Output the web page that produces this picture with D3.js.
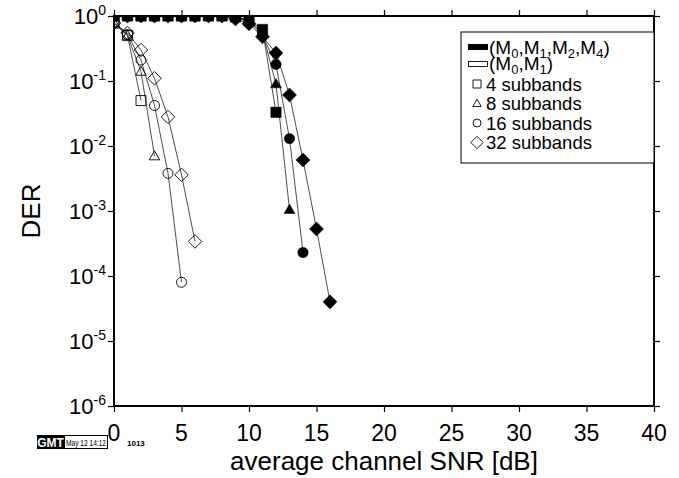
<!DOCTYPE html>
<html><head><meta charset="utf-8">
<script src="https://cdn.jsdelivr.net/npm/d3@7"></script>
<style>
body{margin:0;background:#fff}
svg{display:block}
text{font-family:"Liberation Sans",Arial,Helvetica,sans-serif;fill:#000}
</style>
</head><body>
<svg id="c" width="679" height="478"></svg>
<script>
// ---- data ----
const xTicks = [0, 5, 10, 15, 20, 25, 30, 35, 40];
const yTickExps = [0, -1, -2, -3, -4, -5, -6];
const shapes = ["square", "triangle", "circle", "diamond"];
const legendLabels = ["4 subbands", "8 subbands", "16 subbands", "32 subbands"];

// (M0,M1) – open symbols
const open4X = [0, 1, 2];
const open4Y = [0.78, 0.5, 0.05];
const open8X = [0, 1, 2, 3];
const open8Y = [0.78, 0.5, 0.14, 0.007];
const open16X = [0, 1, 2, 3, 4, 5];
const open16Y = [0.78, 0.52, 0.21, 0.042, 0.0038, 0.00008];
const open32X = [0, 1, 2, 3, 4, 5, 6];
const open32Y = [0.78, 0.55, 0.30, 0.11, 0.028, 0.0036, 0.00034];

// (M0,M1,M2,M4) – filled symbols
const fill4X = [0, 1, 2, 3, 4, 5, 6, 7, 8, 9, 10, 11, 12];
const fill4Y = [1, 1, 1, 1, 1, 1, 1, 1, 1, 0.97, 0.85, 0.62, 0.033];
const fill8X = [0, 1, 2, 3, 4, 5, 6, 7, 8, 9, 10, 11, 12, 13];
const fill8Y = [1, 1, 1, 1, 1, 1, 1, 1, 1, 0.97, 0.85, 0.55, 0.09, 0.00105];
const fill16X = [0, 1, 2, 3, 4, 5, 6, 7, 8, 9, 10, 11, 12, 13, 14];
const fill16Y = [1, 1, 1, 1, 1, 1, 1, 1, 1, 0.97, 0.85, 0.5, 0.18, 0.013, 0.00023];
const fill32X = [0, 1, 2, 3, 4, 5, 6, 7, 8, 9, 10, 11, 12, 13, 14, 15, 16];
const fill32Y = [1, 1, 1, 1, 1, 1, 1, 1, 1, 0.9, 0.76, 0.48, 0.27, 0.061, 0.0061, 0.00053, 0.00004];

const series = [
  {x: open4X, y: open4Y, shape: "square", filled: false},
  {x: open8X, y: open8Y, shape: "triangle", filled: false},
  {x: open16X, y: open16Y, shape: "circle", filled: false},
  {x: open32X, y: open32Y, shape: "diamond", filled: false},
  {x: fill4X, y: fill4Y, shape: "square", filled: true},
  {x: fill8X, y: fill8Y, shape: "triangle", filled: true},
  {x: fill16X, y: fill16Y, shape: "circle", filled: true},
  {x: fill32X, y: fill32Y, shape: "diamond", filled: true}
];

// ---- layout ----
const L = 114, T = 16, W = 540, H = 390;
const svg = d3.select("#c");
const x = d3.scaleLinear().domain([0, 40]).range([L, L + W]);
const y = d3.scaleLog().domain([1e-6, 1]).range([T + H, T]);

function shapePath(type, s) {
  if (type === "square") return `M${-s},${-s}h${2*s}v${2*s}h${-2*s}Z`;
  if (type === "triangle") return `M0,${-s*1.05}L${s*1.05},${s*0.75}L${-s*1.05},${s*0.75}Z`;
  if (type === "circle") return `M${s},0A${s},${s} 0 1,1 ${-s},0A${s},${s} 0 1,1 ${s},0Z`;
  const d = s * 1.35;
  return `M0,${-d}L${d},0L0,${d}L${-d},0Z`;
}

svg.append("defs").append("clipPath").attr("id", "clip")
  .append("rect").attr("x", L).attr("y", T).attr("width", W).attr("height", H);

const plot = svg.append("g").attr("clip-path", "url(#clip)");
const line = d3.line().x(d => x(d[0])).y(d => y(d[1]));

series.forEach(s => {
  const pts = s.x.map((v, i) => [v, s.y[i]]);
  plot.append("path").attr("d", line(pts))
    .attr("fill", "none").attr("stroke", "#3a3a3a").attr("stroke-width", 0.9);
});
series.forEach(s => {
  const pts = s.x.map((v, i) => [v, s.y[i]]);
  plot.selectAll(null).data(pts).enter().append("path")
    .attr("transform", d => `translate(${x(d[0])},${y(d[1])})`)
    .attr("d", shapePath(s.shape, s.filled ? 5.2 : 5))
    .attr("fill", s.filled ? "#000" : "none")
    .attr("stroke", "#000").attr("stroke-width", s.filled ? 0.5 : 0.9);
});

// ---- axes / frame ----
const axB = svg.append("g").attr("transform", `translate(0,${T + H})`)
  .call(d3.axisBottom(x).tickValues(xTicks).tickSize(6).tickFormat(""));
const axT = svg.append("g").attr("transform", `translate(0,${T})`)
  .call(d3.axisTop(x).tickValues(xTicks).tickSize(6).tickFormat(""));
const yTickVals = yTickExps.map(e => Math.pow(10, e));
const axL = svg.append("g").attr("transform", `translate(${L},0)`)
  .call(d3.axisLeft(y).tickValues(yTickVals).tickSize(6).tickFormat(""));
const axR = svg.append("g").attr("transform", `translate(${L + W},0)`)
  .call(d3.axisRight(y).tickValues(yTickVals).tickSize(6).tickFormat(""));
[axB, axT, axL, axR].forEach(a => {
  a.select(".domain").remove();
  a.selectAll(".tick line").attr("stroke", "#000").attr("stroke-width", 1.2);
});
svg.append("rect").attr("x", L).attr("y", T).attr("width", W).attr("height", H)
  .attr("fill", "none").attr("stroke", "#000").attr("stroke-width", 2);

// x tick labels
svg.append("g").selectAll("text").data(xTicks).enter().append("text")
  .attr("x", d => x(d)).attr("y", 441).attr("text-anchor", "middle")
  .attr("font-size", 23).text(d => d);

// y tick labels
const yl = svg.append("g").selectAll("text").data(yTickExps).enter().append("text")
  .attr("x", 106).attr("y", d => y(Math.pow(10, d)) + 8).attr("text-anchor", "end")
  .attr("font-size", 22);
yl.append("tspan").text("10");
yl.append("tspan").attr("font-size", 14).attr("baseline-shift", "9px").text(d => d);

// axis titles
svg.append("text").attr("x", 384).attr("y", 470).attr("text-anchor", "middle")
  .attr("font-size", 26).text("average channel SNR [dB]");
svg.append("text").attr("transform", "translate(40,211) rotate(-90)")
  .attr("text-anchor", "middle").attr("font-size", 26).text("DER");

// ---- legend ----
const lg = svg.append("g");
lg.append("rect").attr("x", 461).attr("y", 32).attr("width", 193).attr("height", 131)
  .attr("fill", "#fff").attr("stroke", "#000").attr("stroke-width", 1);
lg.append("rect").attr("x", 468).attr("y", 44).attr("width", 20).attr("height", 6).attr("fill", "#000");
lg.append("rect").attr("x", 468.5).attr("y", 61.5).attr("width", 19).attr("height", 5)
  .attr("fill", "none").attr("stroke", "#000").attr("stroke-width", 0.9);

function subText(parent, xx, yy, parts) {
  const t = parent.append("text").attr("x", xx).attr("y", yy).attr("font-size", 19);
  parts.forEach(p => {
    const ts = t.append("tspan").text(p.t);
    if (p.sub) ts.attr("font-size", 13).attr("baseline-shift", "-4px");
  });
}
subText(lg, 489, 54, [{t:"(M"},{t:"0",sub:1},{t:",M"},{t:"1",sub:1},{t:",M"},{t:"2",sub:1},{t:",M"},{t:"4",sub:1},{t:")"}]);
subText(lg, 489, 70, [{t:"(M"},{t:"0",sub:1},{t:",M"},{t:"1",sub:1},{t:")"}]);

const legRowsY = [84, 103.5, 123, 142.5];
shapes.forEach((s, i) => {
  lg.append("path").attr("transform", `translate(477,${legRowsY[i]})`)
    .attr("d", shapePath(s, s === "diamond" ? 4.6 : 4))
    .attr("fill", "none").attr("stroke", "#000").attr("stroke-width", 0.9);
  lg.append("text").attr("x", 486).attr("y", legRowsY[i] + 6.5).attr("font-size", 18.5)
    .text(legendLabels[i]);
});

// ---- GMT time stamp ----
svg.append("rect").attr("x", 37).attr("y", 435).attr("width", 27).attr("height", 14).attr("fill", "#000");
svg.append("text").attr("x", 50.5).attr("y", 446.5).attr("text-anchor", "middle")
  .attr("font-size", 12).attr("font-weight", "bold").style("fill", "#fff").text("GMT");
svg.append("rect").attr("x", 64.5).attr("y", 435.5).attr("width", 43).attr("height", 13)
  .attr("fill", "#fff").attr("stroke", "#000").attr("stroke-width", 1);
svg.append("text").attr("x", 66).attr("y", 446).attr("font-size", 9)
  .attr("textLength", 40).attr("lengthAdjust", "spacingAndGlyphs").text("May 12 14:12");
svg.append("text").attr("x", 127).attr("y", 446).attr("font-size", 8).attr("font-weight", "bold").text("1013");
</script>
</body></html>
